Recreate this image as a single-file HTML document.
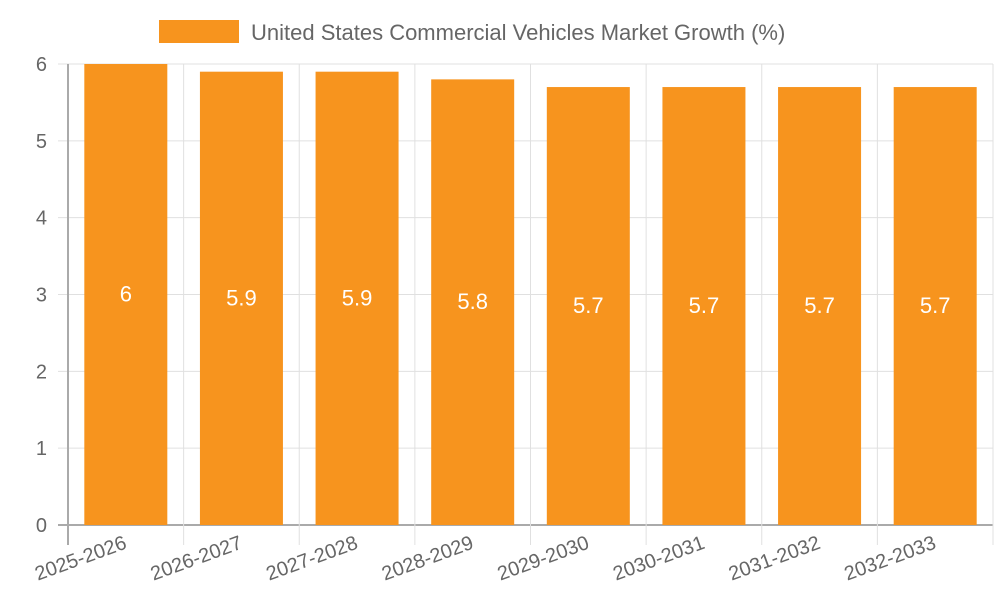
<!DOCTYPE html>
<html><head><meta charset="utf-8"><style>
body{margin:0;background:#fff;font-family:"Liberation Sans",sans-serif}
svg text{font-family:"Liberation Sans",sans-serif}
</style></head><body>
<svg id="chart" width="1000" height="600"></svg>
<script>
const categories=["2025-2026","2026-2027","2027-2028","2028-2029","2029-2030","2030-2031","2031-2032","2032-2033"];
const values=[6,5.9,5.9,5.8,5.7,5.7,5.7,5.7];
const yTicks=[0,1,2,3,4,5,6];
const svg=document.getElementById('chart');
const NS='http://www.w3.org/2000/svg';
const L=68,R=993,T=64,B=525,yMax=6;
const bw=(R-L)/categories.length;
const y=v=>B-(v/yMax)*(B-T);
const x=i=>L+bw*i;
function mk(tag,attrs,parent){const e=document.createElementNS(NS,tag);for(const k in attrs)e.setAttribute(k,attrs[k]);(parent||svg).appendChild(e);return e;}
// legend
const lg=mk('g',{});


mk('rect',{x:159,y:20,width:80,height:23,fill:'#f7941e'},lg);
const lt=mk('text',{x:251,y:40,'font-size':22,fill:'#666'},lg);lt.textContent='United States Commercial Vehicles Market Growth (%)';
// grid y
yTicks.forEach(t=>{
 const g=mk('line',{x1:L-10,x2:R,y1:y(t),y2:y(t),stroke:t===0?'#aaa':'#e0e0e0','stroke-width':t===0?2:1});
 
 
 const tx=mk('text',{x:47,y:y(t)+7,'font-size':20,fill:'#666','text-anchor':'end'});
 tx.textContent=t;
 
 
});
// grid x
for(let i=0;i<=categories.length;i++){
 const g=mk('line',{x1:x(i),x2:x(i),y1:T,y2:545,stroke:i===0?'#aaa':'#e0e0e0','stroke-width':i===0?2:1});
 
 
}
categories.forEach((c,i)=>{
 const cx=x(i)+bw/2, w=83;
 const r=mk('rect',{x:cx-w/2,y:y(values[i]),width:w,height:B-y(values[i]),fill:'#f7941e'});
 
 
 const v=mk('text',{x:cx,y:(y(values[i])+B)/2+7,'font-size':22,fill:'#fff','text-anchor':'middle'});
 v.textContent=values[i];
 
 
 const lx=cx+2, ly=548;
 const t=mk('text',{x:lx,y:ly,'font-size':20,fill:'#666','text-anchor':'end',transform:`rotate(-20 ${lx} ${ly})`});
 t.textContent=c;
 
 
});
</script>
</body></html>
